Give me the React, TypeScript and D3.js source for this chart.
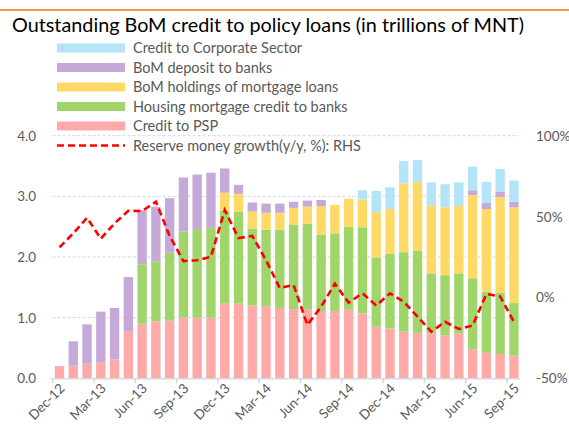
import React, { useEffect, useRef } from 'react';
import * as d3 from 'd3';

const months = [
  'Dec-12', 'Jan-13', 'Feb-13', 'Mar-13', 'Apr-13', 'May-13', 'Jun-13', 'Jul-13', 'Aug-13', 'Sep-13', 'Oct-13', 'Nov-13',
  'Dec-13', 'Jan-14', 'Feb-14', 'Mar-14', 'Apr-14', 'May-14', 'Jun-14', 'Jul-14', 'Aug-14', 'Sep-14', 'Oct-14', 'Nov-14',
  'Dec-14', 'Jan-15', 'Feb-15', 'Mar-15', 'Apr-15', 'May-15', 'Jun-15', 'Jul-15', 'Aug-15', 'Sep-15',
];

const creditPSP = [
  0.20, 0.21, 0.24, 0.26, 0.31, 0.78, 0.90, 0.94, 0.95, 1.00, 1.00, 1.00,
  1.24, 1.23, 1.20, 1.19, 1.16, 1.14, 1.14, 1.11, 1.11, 1.13, 1.07, 0.85,
  0.82, 0.77, 0.75, 0.74, 0.71, 0.74, 0.48, 0.42, 0.40, 0.38,
];
const housingCredit = [
  0, 0, 0, 0, 0, 0, 0.98, 0.99, 1.12, 1.42, 1.46, 1.48,
  1.52, 1.52, 1.27, 1.26, 1.29, 1.39, 1.41, 1.26, 1.28, 1.37, 1.42, 1.14,
  1.23, 1.31, 1.35, 0.99, 0.99, 0.99, 1.17, 1.01, 1.01, 0.86,
];
const mortgageHoldings = [
  0, 0, 0, 0, 0, 0, 0, 0, 0, 0, 0, 0,
  0.30, 0.29, 0.28, 0.28, 0.28, 0.28, 0.28, 0.47, 0.47, 0.46, 0.46, 0.75,
  0.74, 1.13, 1.14, 1.12, 1.12, 1.11, 1.37, 1.36, 1.58, 1.58,
];
const bomDeposit = [
  0, 0.40, 0.65, 0.84, 0.85, 0.89, 0.89, 0.90, 0.90, 0.89, 0.90, 0.91,
  0.40, 0.15, 0.15, 0.15, 0.15, 0.10, 0.10, 0.10, 0, 0, 0, 0,
  0, 0, 0, 0, 0, 0, 0.08, 0.10, 0.09, 0.09,
];
const corporateCredit = [
  0, 0, 0, 0, 0, 0, 0, 0, 0, 0, 0, 0,
  0, 0, 0, 0, 0, 0, 0, 0, 0, 0, 0.15, 0.35,
  0.36, 0.37, 0.36, 0.38, 0.38, 0.39, 0.39, 0.35, 0.37, 0.35,
];
const reserveGrowth = [
  31.0, 39.6, 49.3, 36.3, 45.8, 53.6, 53.4, 59.2, 38.0, 22.5, 23.0, 25.2,
  54.0, 36.7, 38.0, 23.0, 5.8, 7.7, -17.0, -5.7, 8.5, -3.2, 2.6, -5.0,
  2.5, -2.6, -11.9, -21.2, -15.1, -19.5, -17.4, 2.1, 0.6, -15.1,
];

const leftTicks = [0, 1, 2, 3, 4];
const rightTicks = [-50, 0, 50, 100];
const xLabelMonths = ['Dec-12', 'Mar-13', 'Jun-13', 'Sep-13', 'Dec-13', 'Mar-14', 'Jun-14', 'Sep-14', 'Dec-14', 'Mar-15', 'Jun-15', 'Sep-15'];

const seriesNames = [
  'Credit to PSP',
  'Housing mortgage credit to banks',
  'BoM holdings of mortgage loans',
  'BoM deposit to banks',
  'Credit to Corporate Sector',
];
const seriesColors = ['#FFA9A9', '#A0D569', '#FFD966', '#C5A9D9', '#B3E4F8'];
const lineName = 'Reserve money growth(y/y, %): RHS';

const FONT = 'Lato, "DejaVu Sans", sans-serif';

export default function App() {
  const ref = useRef<SVGSVGElement>(null);

  useEffect(() => {
    const svg = d3.select(ref.current);
    svg.selectAll('*').remove();

    const left = 52.6, right = 520.8, top = 135.7, bottom = 378.3;

    const x = d3.scaleBand()
      .domain(months)
      .range([left, right])
      .paddingInner(0.32)
      .paddingOuter(0.16);
    const y = d3.scaleLinear().domain([0, 4]).range([bottom, top]);
    const y2 = d3.scaleLinear().domain([-50, 100]).range([bottom, top]);

    // orange rule at the top
    svg.append('rect').attr('x', 0).attr('y', 9).attr('width', 569).attr('height', 2).attr('fill', '#F79646');

    svg.append('text')
      .attr('x', 12).attr('y', 32)
      .attr('font-family', FONT).attr('font-size', 19.8)
      .attr('fill', '#000')
      .text('Outstanding BoM credit to policy loans (in trillions of MNT)');

    // gridlines
    svg.append('g').selectAll('line')
      .data(leftTicks.filter(d => d > 0))
      .enter().append('line')
      .attr('x1', left).attr('x2', right - 2)
      .attr('y1', d => y(d)).attr('y2', d => y(d))
      .attr('stroke', '#C6D9F1').attr('stroke-width', 1).attr('stroke-dasharray', '3,2');

    // stacked bars
    const table = months.map((m, i) => ({
      month: m,
      s0: creditPSP[i], s1: housingCredit[i], s2: mortgageHoldings[i], s3: bomDeposit[i], s4: corporateCredit[i],
    }));
    const stack = d3.stack<any>().keys(['s0', 's1', 's2', 's3', 's4'])(table);

    svg.append('g').selectAll('g')
      .data(stack)
      .enter().append('g')
      .attr('fill', (d, i) => seriesColors[i])
      .selectAll('rect')
      .data(d => d.filter(p => p[1] - p[0] > 0))
      .enter().append('rect')
      .attr('x', d => x(d.data.month) as number)
      .attr('width', x.bandwidth())
      .attr('y', d => y(d[1]))
      .attr('height', d => y(d[0]) - y(d[1]));

    // x axis line and ticks
    const axis = svg.append('g');
    axis.append('line')
      .attr('x1', left - 2).attr('x2', right - 1)
      .attr('y1', bottom + 0.5).attr('y2', bottom + 0.5)
      .attr('stroke', '#D9D9D9').attr('stroke-width', 1.5);
    axis.selectAll('line.tick')
      .data(xLabelMonths)
      .enter().append('line')
      .attr('class', 'tick')
      .attr('x1', d => (x(d) as number) - x.step() * x.paddingInner() / 2)
      .attr('x2', d => (x(d) as number) - x.step() * x.paddingInner() / 2)
      .attr('y1', bottom).attr('y2', bottom + 5)
      .attr('stroke', '#D9D9D9').attr('stroke-width', 1.5);

    axis.selectAll('text')
      .data(xLabelMonths)
      .enter().append('text')
      .attr('text-anchor', 'end')
      .attr('transform', d => `translate(${(x(d) as number) + x.bandwidth() / 2 + 6},${bottom + 11}) rotate(-45)`)
      .attr('font-family', FONT).attr('font-size', 13.5)
      .attr('fill', '#595959')
      .text(d => d);

    // left axis labels
    svg.append('g').selectAll('text')
      .data(leftTicks)
      .enter().append('text')
      .attr('x', 36).attr('y', d => y(d) + 5)
      .attr('text-anchor', 'end')
      .attr('font-family', FONT).attr('font-size', 13.5)
      .attr('fill', '#595959')
      .text(d => d.toFixed(1));

    // right axis labels
    svg.append('g').selectAll('text')
      .data(rightTicks)
      .enter().append('text')
      .attr('x', 536).attr('y', d => y2(d) + 5)
      .attr('font-family', FONT).attr('font-size', 13.5)
      .attr('fill', '#595959')
      .text(d => d + '%');

    // reserve money line
    svg.append('path')
      .datum(reserveGrowth)
      .attr('fill', 'none')
      .attr('stroke', '#FF0000')
      .attr('stroke-width', 2.6)
      .attr('stroke-dasharray', '7,4')
      .attr('d', d3.line<number>()
        .x((d, i) => (x(months[i]) as number) + x.bandwidth() / 2)
        .y(d => y2(d)));

    // legend
    const legendItems = [
      { name: seriesNames[4], color: seriesColors[4] },
      { name: seriesNames[3], color: seriesColors[3] },
      { name: seriesNames[2], color: seriesColors[2] },
      { name: seriesNames[1], color: seriesColors[1] },
      { name: seriesNames[0], color: seriesColors[0] },
    ];
    const legend = svg.append('g');
    legendItems.forEach((item, i) => {
      const cy = 48 + i * 19.5;
      legend.append('rect')
        .attr('x', 57).attr('y', cy - 4.5).attr('width', 68).attr('height', 9)
        .attr('fill', item.color);
      legend.append('text')
        .attr('x', 133).attr('y', cy + 5)
        .attr('font-family', FONT).attr('font-size', 14.5)
        .attr('fill', '#595959')
        .text(item.name);
    });
    const ly = 48 + 5 * 19.5;
    legend.append('line')
      .attr('x1', 57).attr('x2', 125).attr('y1', ly).attr('y2', ly)
      .attr('stroke', '#FF0000').attr('stroke-width', 2.6).attr('stroke-dasharray', '7,4');
    legend.append('text')
      .attr('x', 133).attr('y', ly + 5)
      .attr('font-family', FONT).attr('font-size', 14.5)
      .attr('fill', '#595959')
      .text(lineName);
  }, []);

  return (
    <svg ref={ref} width={569} height={430}
      style={{ position: 'absolute', left: 0, top: 0, background: '#fff' }} />
  );
}
